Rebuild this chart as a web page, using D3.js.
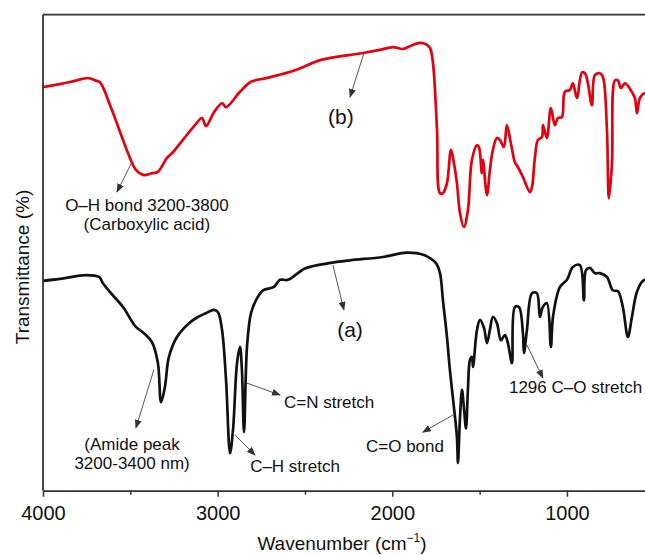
<!DOCTYPE html>
<html>
<head>
<meta charset="utf-8">
<script src="https://cdn.jsdelivr.net/npm/d3@7"></script>
<style>
  body { margin: 0; background: #fff; }
  text { font-family: "Liberation Sans", Arial, Helvetica, sans-serif; fill: #111; }
</style>
</head>
<body>
<svg id="chart" width="645" height="555"></svg>
<script>
'use strict';

// spectrum (b) - red
var wavenumberB = [4000,3903,3817,3742,3702,3674,3616,3542,3513,3468,3422,3376,3342,3290,3256,3199,3130,3090,3067,3021,
  2975,2952,2872,2809,2718,2552,2408,2174,2071,1996,1939,1887,1842,1807,1784,1767,1744,1727,1710,1687,
  1664,1647,1630,1613,1590,1567,1544,1515,1504,1487,1481,1458,1441,1424,1401,1384,1361,1344,1321,1298,
  1281,1252,1212,1200,1183,1166,1143,1137,1115,1092,1069,1052,1029,1012,983,966,943,914,897,880,
  857,840,811,794,771,760,742,725,708,691,668,639,611,599,582,554,525];
var transmittanceB = [84.8,85.4,86.1,86.7,86.2,85.8,81.0,73.7,70.9,67.4,66.3,66.7,67.0,69.9,71.1,73.7,76.8,78.3,76.6,79.5,
  81.4,80.6,83.8,85.9,86.7,88.4,90.5,91.9,92.6,93.2,92.8,93.6,94.1,93.8,93.0,89.8,75.8,62.5,62.5,64.6,
  71.6,68.8,64.6,58.5,55.4,58.9,69.5,72.6,72.2,66.7,69.5,62.1,67.4,71.6,74.1,73.7,72.2,76.8,73.0,69.0,
  68.0,65.9,62.7,63.8,70.1,73.7,74.3,76.8,74.1,80.4,76.8,78.3,78.5,83.8,84.2,85.6,82.5,87.9,87.7,85.6,
  81.0,87.3,87.7,86.9,75.8,61.4,68.8,86.2,86.2,84.6,85.6,84.4,82.5,79.3,82.5,83.5,83.1];

// spectrum (a) - black
var wavenumberA = [4000,3903,3754,3679,3657,3611,3542,3468,3422,3376,3342,3324,3302,3279,3233,3164,3113,3067,3021,2998,
  2975,2952,2929,2912,2889,2872,2861,2849,2832,2809,2775,2740,2678,2643,2597,2500,2363,2242,2054,1916,
  1819,1750,1727,1710,1687,1670,1647,1630,1624,1613,1601,1590,1578,1567,1555,1544,1538,1515,1498,1475,
  1458,1441,1424,1401,1378,1355,1338,1315,1298,1275,1252,1246,1229,1200,1172,1155,1138,1115,1092,1080,
  1040,1000,966,926,903,891,868,840,811,771,737,708,680,651,628,599,565,525];
var transmittanceA = [44.1,44.5,45.3,44.9,43.6,41.5,38.6,34.4,33.1,31.2,26.8,18.6,21.8,28.1,32.3,35.2,36.5,37.3,38.0,37.5,
  33.8,23.3,7.9,12.8,26.8,30.2,25.3,12.3,30.2,37.3,40.4,42.1,42.8,44.3,44.3,46.7,47.8,48.4,49.1,50.0,
  49.5,47.8,45.7,40.0,32.3,25.3,17.5,11.3,5.8,14.8,21.2,17.5,13.1,21.2,27.5,28.1,26.0,33.8,35.9,34.2,
  31.0,33.8,36.5,35.2,31.6,32.7,31.0,26.8,38.6,38.6,33.1,28.9,33.8,41.5,41.5,36.5,38.6,39.4,30.2,36.5,
  42.8,44.3,47.0,47.4,40.0,46.3,46.8,45.7,45.7,44.9,42.1,41.9,38.6,32.3,36.5,41.8,44.1,44.3];

var majorTicks = [4000, 3000, 2000, 1000];
var minorTicks = [3500, 2500, 1500];

(function () {
  var W = 645;
  var plotLeft = 43, plotTop = 14.7, plotBottom = 490.7;

  var svg = d3.select('#chart');

  var x = d3.scaleLinear().domain([4000, 450]).range([plotLeft, 663]);
  var y = d3.scaleLinear().domain([0, 100]).range([plotBottom, plotTop]);

  var defs = svg.append('defs');
  defs.append('clipPath').attr('id', 'plot')
    .append('rect').attr('x', plotLeft).attr('y', plotTop)
    .attr('width', W - plotLeft).attr('height', plotBottom - plotTop);

  var marker = defs.append('marker')
    .attr('id', 'arrow').attr('markerUnits', 'userSpaceOnUse')
    .attr('markerWidth', 9).attr('markerHeight', 7)
    .attr('refX', 8).attr('refY', 3.5).attr('orient', 'auto');
  marker.append('path').attr('d', 'M0,0 L9,3.5 L0,7 Z').attr('fill', '#333');

  // curves
  var line = d3.line()
    .x(function (d) { return x(d[0]); })
    .y(function (d) { return y(d[1]); })
    .curve(d3.curveCatmullRom.alpha(0.5));

  var plot = svg.append('g').attr('clip-path', 'url(#plot)');

  plot.append('path')
    .datum(d3.zip(wavenumberB, transmittanceB))
    .attr('d', line).attr('fill', 'none')
    .attr('stroke', '#e3000f').attr('stroke-width', 2.7).attr('stroke-linejoin', 'round');

  plot.append('path')
    .datum(d3.zip(wavenumberA, transmittanceA))
    .attr('d', line).attr('fill', 'none')
    .attr('stroke', '#111').attr('stroke-width', 2.7).attr('stroke-linejoin', 'round');

  // frame: left and top
  svg.append('line').attr('x1', plotLeft).attr('x2', plotLeft).attr('y1', plotTop).attr('y2', plotBottom)
    .attr('stroke', '#333').attr('stroke-width', 1.8);
  svg.append('line').attr('x1', plotLeft).attr('x2', W).attr('y1', plotTop).attr('y2', plotTop)
    .attr('stroke', '#333').attr('stroke-width', 1.8);

  // x axis
  var gx = svg.append('g').attr('transform', 'translate(0,' + plotBottom + ')')
    .call(d3.axisBottom(x).tickValues(majorTicks).tickSize(6).tickSizeOuter(0).tickFormat(d3.format('d')));
  gx.select('.domain').attr('stroke', '#333').attr('stroke-width', 1.8);
  gx.selectAll('.tick line').attr('stroke', '#333').attr('stroke-width', 1.5);
  gx.selectAll('.tick text').attr('y', 29).attr('dy', 0)
    .style('font-size', '20px').style('font-family', '"Liberation Sans", Arial, sans-serif').attr('fill', '#111');

  var gm = svg.append('g').attr('transform', 'translate(0,' + plotBottom + ')')
    .call(d3.axisBottom(x).tickValues(minorTicks).tickSize(4).tickFormat(''));
  gm.select('.domain').remove();
  gm.selectAll('.tick line').attr('stroke', '#333').attr('stroke-width', 1.5);

  // axis titles
  var xt = svg.append('text').attr('x', 342).attr('y', 550).attr('text-anchor', 'middle')
    .style('font-size', '19px');
  xt.append('tspan').text('Wavenumber (cm');
  xt.append('tspan').attr('dy', -8).style('font-size', '12px').text('\u22121');
  xt.append('tspan').attr('dy', 8).text(')');

  svg.append('text')
    .attr('transform', 'translate(29,267) rotate(-90)')
    .attr('text-anchor', 'middle').style('font-size', '19px')
    .text('Transmittance (%)');

  // annotations (anchored in data units)
  var notes = [
    { from: [2162, 92.0], to: [2242, 82.7], lines: ['(b)'], at: [2294, 77.0], anchor: 'middle', size: 21 },
    { from: [3490, 69.1], to: [3576, 62.8], lines: ['O\u2013H bond 3200-3800', '(Carboxylic acid)'], at: [3405, 58.8], anchor: 'middle', size: 17 },
    { from: [2340, 47.4], to: [2277, 38.0], lines: ['(a)'], at: [2242, 32.3], anchor: 'middle', size: 21 },
    { from: [2832, 22.6], to: [2643, 20.1], lines: ['C=N stretch'], at: [2620, 17.4], anchor: 'start', size: 17 },
    { from: [3365, 25.4], to: [3468, 13.2], lines: ['(Amide peak', '3200-3400 nm)'], at: [3490, 8.6], anchor: 'middle', size: 17 },
    { from: [2901, 11.7], to: [2786, 7.5], lines: ['C\u2013H stretch'], at: [2557, 3.9], anchor: 'middle', size: 17 },
    { from: [1653, 15.9], to: [1825, 12.3], lines: ['C=O bond'], at: [1704, 8.1], anchor: 'end', size: 17 },
    { from: [1229, 30.6], to: [1138, 23.7], lines: ['1296 C\u2013O stretch'], at: [1332, 20.5], anchor: 'start', size: 17 }
  ];

  notes.forEach(function (n) {
    svg.append('line')
      .attr('x1', x(n.from[0])).attr('y1', y(n.from[1]))
      .attr('x2', x(n.to[0])).attr('y2', y(n.to[1]))
      .attr('stroke', '#555').attr('stroke-width', 1)
      .attr('marker-end', 'url(#arrow)');
    var t = svg.append('text')
      .attr('x', x(n.at[0])).attr('y', y(n.at[1]))
      .attr('text-anchor', n.anchor).style('font-size', n.size + 'px');
    n.lines.forEach(function (s, i) {
      t.append('tspan').attr('x', x(n.at[0])).attr('dy', i === 0 ? 0 : '1.15em').text(s);
    });
  });
})();
</script>
</body>
</html>
